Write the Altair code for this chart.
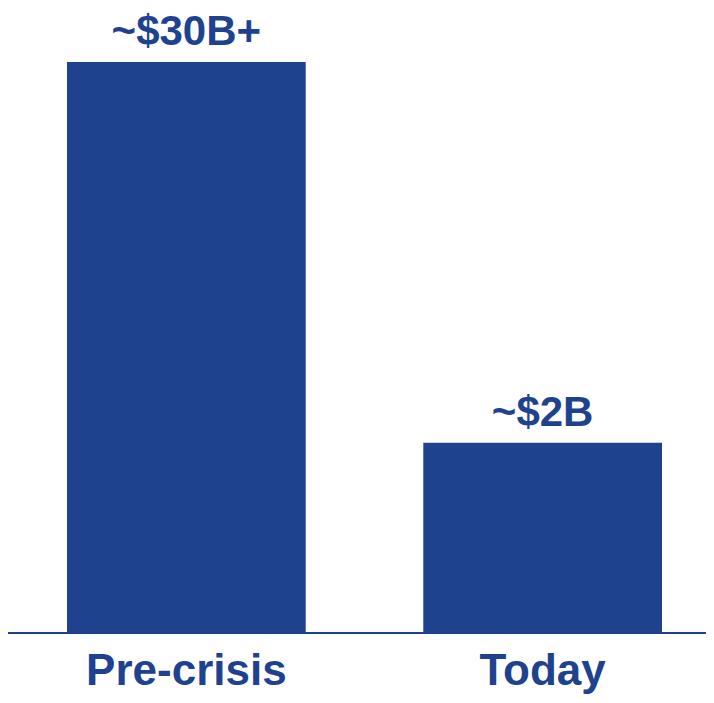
import altair as alt
import pandas as pd

categories = ["Pre-crisis", "Today"]
bar_values = [30, 10]
value_labels = ["~$30B+", "~$2B"]

BLUE = "#1F428F"
FONT = "Liberation Sans"

df = pd.DataFrame({"cat": categories, "val": bar_values, "label": value_labels})

x = alt.X(
    "cat:N",
    sort=categories,
    scale=alt.Scale(range=[59, 654], paddingInner=0.33, paddingOuter=0),
    axis=alt.Axis(
        title=None,
        domain=False,
        ticks=False,
        tickSize=0,
        labelAngle=0,
        labelLimit=0,
        labelFont=FONT,
        labelFontSize=44,
        labelFontWeight="bold",
        labelColor=BLUE,
        labelBaseline="alphabetic",
        labelPadding=51,
    ),
)
y = alt.Y("val:Q", scale=alt.Scale(domain=[0, 32.84], nice=False), axis=None)

bars = alt.Chart(df).mark_bar(color=BLUE).encode(x=x, y=y)

texts = alt.Chart(df).mark_text(
    font=FONT, fontSize=42, fontWeight="bold", color=BLUE, baseline="alphabetic", dy=-17
).encode(x=x, y=y, text="label:N")

base_line = alt.Chart(df).mark_rule(color=BLUE, strokeWidth=2).encode(
    y=alt.datum(0), x=alt.value(0), x2=alt.value(698)
)

chart = (
    alt.layer(bars, texts, base_line)
    .properties(
        width=698,
        height=625,
        autosize=alt.AutoSizeParams(type="none"),
        padding={"left": 0, "top": 0, "right": 0, "bottom": 62},
    )
    .configure_view(strokeWidth=0)
)

chart.save("out.html", embed_options={"renderer": "svg", "actions": False})
